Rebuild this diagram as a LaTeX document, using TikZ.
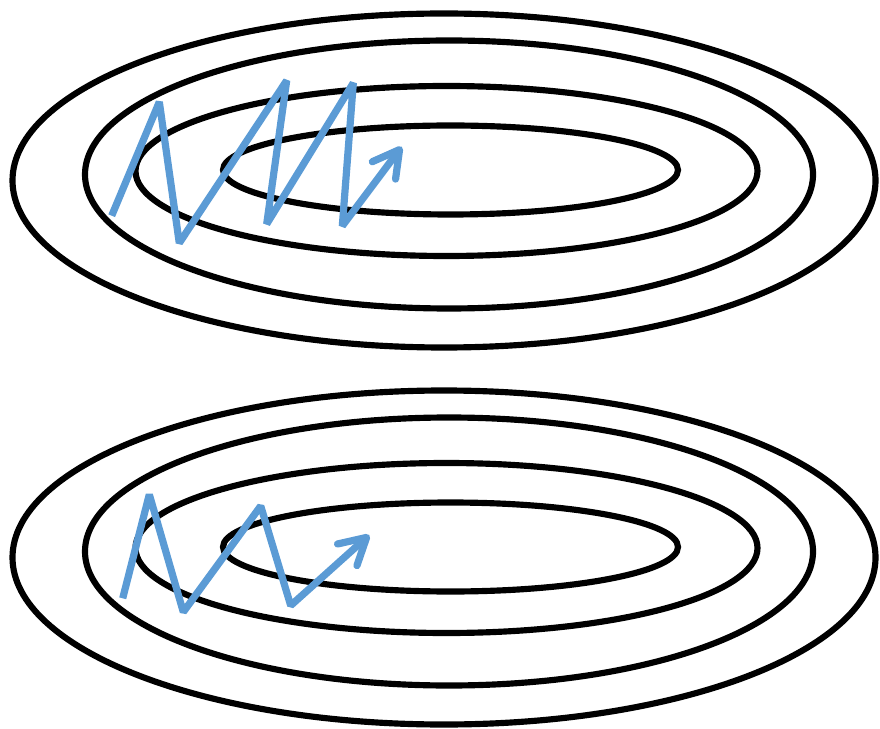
\documentclass[tikz,border=0pt]{standalone}
\usetikzlibrary{arrows.meta}
\definecolor{pfadblau}{RGB}{91,155,213}
\begin{document}
\begin{tikzpicture}[x=0.01cm,y=-0.01cm,line width=1.75pt,>={Straight Barb[length=2.6mm,width=2.9mm,round]}]
  \useasboundingbox (0,0) rectangle (880,728);
  \tikzset{hoehe/.style={black,line width=1.75pt},
    pfad/.style={->,pfadblau,line width=2.05pt,line join=bevel}}
  % hoehenlinien
  \foreach \dy in {0,377}{
    \begin{scope}[yshift=-\dy*0.01cm]
      \draw[hoehe] (444,180.5) ellipse (431.5 and 167);
      \draw[hoehe] (449,174.5) ellipse (364 and 134);
      \draw[hoehe] (446.5,171) ellipse (311 and 85);
      \draw[hoehe] (450.5,170) ellipse (227.5 and 44.5);
    \end{scope}
  }
  % oben
  \draw[pfad] (111.7,215.7)--(159.3,102)--(179.3,243)--(286.7,80.5)--(266.7,224)--(353.3,83)--(342.3,226)--(401.7,146.7);
  % unten
  \draw[pfad] (122.7,598.3)--(149.3,494.5)--(183.3,612)--(260.7,506)--(290.7,605.5)--(369.3,535);
\end{tikzpicture}
\end{document}
